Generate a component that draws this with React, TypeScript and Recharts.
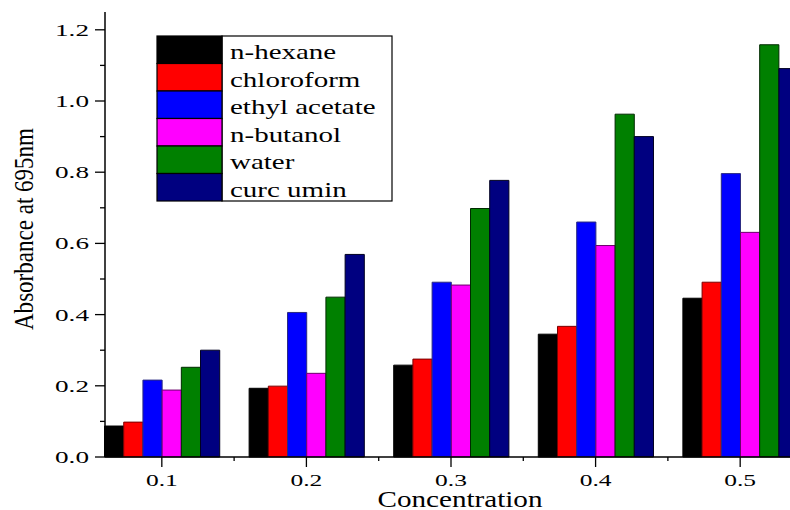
import React from 'react';
import { BarChart, Bar, XAxis, YAxis, Legend } from 'recharts';

const categories = [0.1, 0.2, 0.3, 0.4, 0.5];
const nHexane = [0.087, 0.193, 0.258, 0.345, 0.446];
const chloroform = [0.098, 0.199, 0.275, 0.367, 0.491];
const ethylAcetate = [0.216, 0.406, 0.491, 0.66, 0.796];
const nButanol = [0.188, 0.235, 0.483, 0.594, 0.631];
const water = [0.252, 0.449, 0.698, 0.963, 1.158];
const curcumin = [0.3, 0.569, 0.777, 0.9, 1.091];
const yTicks = [0, 0.1, 0.2, 0.3, 0.4, 0.5, 0.6, 0.7, 0.8, 0.9, 1.0, 1.1, 1.2];
const xTicks = [0.1, 0.2, 0.3, 0.4, 0.5];

const series = [
  { key: 'nHexane', name: 'n-hexane', fill: '#000000', stroke: '#000000', values: nHexane },
  { key: 'chloroform', name: 'chloroform', fill: '#FF0000', stroke: '#7a0000', values: chloroform },
  { key: 'ethylAcetate', name: 'ethyl acetate', fill: '#0000FF', stroke: '#2a2a80', values: ethylAcetate },
  { key: 'nButanol', name: 'n-butanol', fill: '#FF00FF', stroke: '#6a006a', values: nButanol },
  { key: 'water', name: 'water', fill: '#008000', stroke: '#002a00', values: water },
  { key: 'curcumin', name: 'curc umin', fill: '#000080', stroke: '#000020', values: curcumin },
];

const data = categories.map((c, i) => {
  const row: any = { conc: c };
  series.forEach((s) => {
    row[s.key] = s.values[i];
  });
  return row;
});

const FONT_STYLE = { fontFamily: "'Liberation Serif', 'DejaVu Serif', serif" };
const CHART_W = 830;
const CHART_H = 510;
const MARGIN = { top: 12, right: 33, bottom: 0, left: 45 };
const Y_W = 60;
const X_H = 53;
const X_DOMAIN: [number, number] = [0.0607, 0.5393];
const PLOT_W = CHART_W - MARGIN.left - MARGIN.right - Y_W;
const PX_PER_X = PLOT_W / (X_DOMAIN[1] - X_DOMAIN[0]);

function YTick(props: any) {
  const { x, y, payload } = props;
  const v = payload.value;
  const major = Math.round(v * 10) % 2 === 0;
  return (
    <g>
      <line x1={x - (major ? 10 : 5)} x2={x} y1={y} y2={y} stroke="#000" strokeWidth={1.3} />
      {major && (
        <text
          transform={`translate(${x - 16},${y + 6}) scale(1.6,1)`}
          textAnchor="end"
          style={FONT_STYLE}
          fontSize={17}
          fill="#000"
        >
          {v.toFixed(1)}
        </text>
      )}
    </g>
  );
}

function XTick(props: any) {
  const { x, y, payload } = props;
  const v = payload.value;
  const minorX = x + 0.05 * PX_PER_X;
  return (
    <g>
      <line x1={x} x2={x} y1={y} y2={y + 10} stroke="#000" strokeWidth={1.3} />
      {v < 0.45 && <line x1={minorX} x2={minorX} y1={y} y2={y + 4} stroke="#000" strokeWidth={1.3} />}
      <text
        transform={`translate(${x},${y + 29}) scale(1.5,1)`}
        textAnchor="middle"
        style={FONT_STYLE}
        fontSize={17}
        fill="#000"
      >
        {v.toFixed(1)}
      </text>
    </g>
  );
}

function XTitle() {
  return (
    <text x={460} y={507} textAnchor="middle" style={FONT_STYLE} fontSize={24} fill="#000" textLength={165} lengthAdjust="spacingAndGlyphs">
      Concentration
    </text>
  );
}

function YTitle() {
  return (
    <text
      x={33}
      y={229}
      transform="rotate(-90, 33, 229)"
      textAnchor="middle"
      style={FONT_STYLE}
      fontSize={27}
      fill="#000"
      textLength={202}
      lengthAdjust="spacingAndGlyphs"
    >
      Absorbance at 695nm
    </text>
  );
}

function renderLegend(props: any) {
  const payload = (props && props.payload) || [];
  const items = series.map((s) => {
    const p = payload.find((e: any) => e.value === s.name);
    return { name: s.name, color: p && p.color ? p.color : s.fill };
  });
  const rowH = 27.5;
  return (
    <svg width={250} height={180} style={{ display: 'block' }}>
      <rect x={72} y={6} width={170} height={165} fill="#fff" stroke="#000" strokeWidth={1.2} />
      {items.map((it, i) => (
        <g key={it.name}>
          <rect x={7} y={6 + i * rowH} width={65} height={rowH} fill={it.color} stroke="#000" strokeWidth={1.2} />
          <text
            transform={`translate(80,${29 + i * rowH}) scale(1.45,1)`}
            style={FONT_STYLE}
            fontSize={20}
            fill="#000"
          >
            {it.name}
          </text>
        </g>
      ))}
    </svg>
  );
}

export default function App() {
  return (
    <div style={{ position: 'absolute', left: 0, top: 0, width: 790, height: 510, overflow: 'hidden', background: '#fff' }}>
      <BarChart width={CHART_W} height={CHART_H} data={data} margin={MARGIN} barGap={0}>
        <XAxis
          dataKey="conc"
          type="number"
          domain={X_DOMAIN}
          ticks={xTicks}
          interval={0}
          height={X_H}
          axisLine={{ stroke: '#000', strokeWidth: 1.5 }}
          tickLine={false}
          tickSize={0}
          tickMargin={0}
          tick={<XTick />}
          label={<XTitle />}
        />
        <YAxis
          type="number"
          domain={[0, 1.25]}
          ticks={yTicks}
          interval={0}
          width={Y_W}
          axisLine={{ stroke: '#000', strokeWidth: 1.5 }}
          tickLine={false}
          tickSize={0}
          tickMargin={0}
          tick={<YTick />}
          label={<YTitle />}
        />
        <Legend
          content={renderLegend}
          layout="horizontal"
          verticalAlign="middle"
          align="center"
          wrapperStyle={{ left: 150, top: 30, width: 250, height: 180 }}
        />
        {series.map((s) => (
          <Bar
            key={s.key}
            dataKey={s.key}
            name={s.name}
            fill={s.fill}
            stroke={s.stroke}
            strokeWidth={1}
            barSize={19.2}
            isAnimationActive={false}
          />
        ))}
      </BarChart>
    </div>
  );
}
